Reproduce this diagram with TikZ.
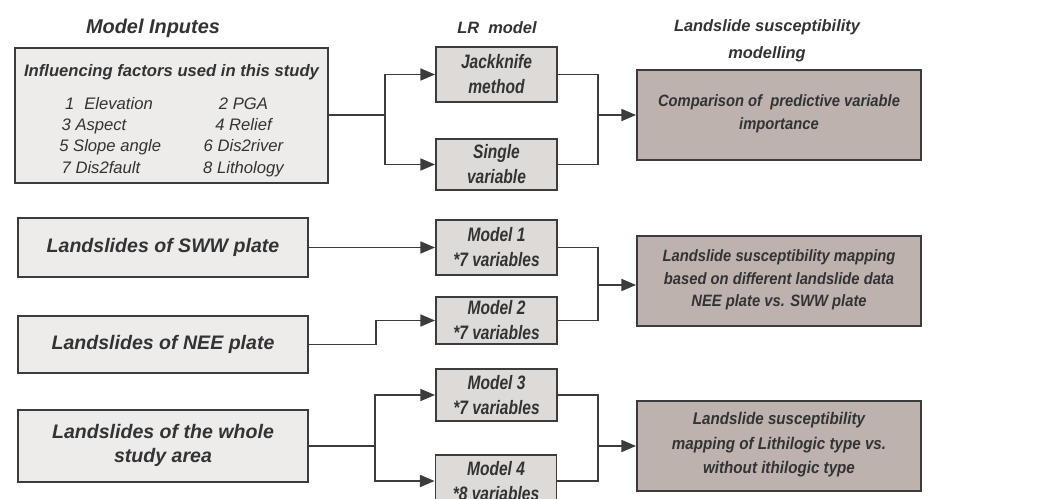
\documentclass[tikz,border=0pt]{standalone}
\usepackage{fontspec}
\setmainfont{Liberation Sans}
\newfontfamily\lrfont[FakeStretch=0.8]{Liberation Sans}
\newfontfamily\resfont[FakeStretch=0.9]{Liberation Sans}
\usepackage{tikz}
\usetikzlibrary{
    arrows.meta,
    calc,
    positioning,
}
\definecolor{boxLine}{HTML}{3C3C3C}
\definecolor{inFill}{HTML}{EEECEB}
\definecolor{lrFill}{HTML}{DEDAD8}
\definecolor{resFill}{HTML}{BDB2AE}
\definecolor{inkGrey}{HTML}{333333}
\newdimen\pxu \pxu=0.03cm

\begin{document}
\begin{tikzpicture}[x=0.03cm,y=-0.03cm,>={Triangle[length=0.44cm,width=0.36cm]}]

    \tikzstyle{commonBox}=[draw=boxLine, line width=1.6pt, text=inkGrey, align=center, inner sep=0pt]
    \tikzstyle{inputBox}=[commonBox, fill=inFill, minimum width=290\pxu, font=\fontsize{16.7pt}{20.7pt}\selectfont\bfseries\itshape]
    \tikzstyle{modelBox}=[commonBox, fill=lrFill, minimum width=121\pxu, font=\lrfont\fontsize{16.6pt}{21.3pt}\selectfont\bfseries\itshape]
    \tikzstyle{resultBox}=[commonBox, fill=resFill, minimum width=284\pxu, minimum height=90\pxu, font=\resfont\fontsize{14pt}{19.5pt}\selectfont\bfseries\itshape]
    \tikzstyle{heading}=[text=inkGrey, align=center, inner sep=0pt, font=\fontsize{14pt}{23pt}\selectfont\bfseries\itshape]
    \tikzstyle{link}=[draw=boxLine, line width=1.4pt]

    \clip (0,0) rectangle (1052,499);

    % Column headings
    \node at (153,28) [heading, font=\fontsize{17pt}{20pt}\selectfont\bfseries\itshape] (hInput) {Model Inputes};
    \node at (497,28) [heading] (hLR) {LR\ \ model};
    \node at (767,41) [heading] (hResult) {Landslide susceptibility\\modelling};

    % Model inputs
    \node at (171.5,115.5) [inputBox, minimum width=313\pxu, minimum height=135\pxu, font=\fontsize{14.2pt}{18.2pt}\selectfont\itshape] (factors)
        {\rule{0pt}{21pt}{\bfseries Influencing factors used in this study}\\[10pt]
         \begin{tabular}[t]{@{}l@{\hspace{36pt}}c@{}}
             \hspace{5pt}1\hspace{0.6em}Elevation & 2 PGA\\
             \hspace{2pt}3 Aspect & 4 Relief\\
             5 Slope angle & 6 Dis2river\\
             \hspace{2pt}7 Dis2fault & 8 Lithology
         \end{tabular}};
    \node at (163,247.5) [inputBox, minimum height=59\pxu] (sww)   {Landslides of SWW plate\rule[-4pt]{0pt}{4pt}};
    \node at (163,344.5) [inputBox, minimum height=57\pxu] (nee)   {Landslides of NEE plate\rule[-4pt]{0pt}{4pt}};
    \node at (163,446)   [inputBox, minimum height=72\pxu] (whole) {Landslides of the whole\\study area\rule[-4pt]{0pt}{4pt}};

    % LR model
    \node at (496.5,74.5)  [modelBox, minimum height=55\pxu] (jack)   {Jackknife\\method};
    \node at (496.5,164.5) [modelBox, minimum height=51\pxu] (single) {Single\\variable};
    \node at (496.5,247.5) [modelBox, minimum height=55\pxu] (mOne)   {Model 1\\*7 variables};
    \node at (496.5,320.5) [modelBox, minimum height=47\pxu] (mTwo)   {Model 2\\*7 variables};
    \node at (496.5,395)   [modelBox, minimum height=52\pxu] (mThree) {Model 3\\*7 variables};
    \node at (496,481)     [modelBox, minimum height=52\pxu] (mFour)  {Model 4\\*8 variables};

    % Susceptibility modelling
    \node at (779,115) [resultBox] (compare)  {Comparison of\ \ predictive variable\\importance\rule[-5pt]{0pt}{5pt}};
    \node at (779,281) [resultBox] (mapPlate) {Landslide susceptibility mapping\\based on different landslide data\\NEE plate vs. SWW plate\rule[-5pt]{0pt}{5pt}};
    \node at (779,446) [resultBox, font=\resfont\fontsize{14.4pt}{21pt}\selectfont\bfseries\itshape] (mapLith)
        {Landslide susceptibility\\mapping of Lithilogic type vs.\\without ithilogic type\rule[-5pt]{0pt}{5pt}};

    % Junctions
    \coordinate (jInput) at (385,115);
    \coordinate (jLR)    at (598,115);
    \coordinate (jNee)   at (376,344.5);
    \coordinate (jWhole) at (375,446);
    \coordinate (jPlate) at (598,285);
    \coordinate (jLith)  at (598,446);

    % Connectors
    \draw [link] (factors.east |- jInput) -- (jInput);
    \draw [link,->] (jInput) |- (jack.west);
    \draw [link,->] (jInput) |- (single.west);
    \draw [link] (jack.east) -| (jLR) |- (single.east);
    \draw [link,->] (jLR) -- (compare.west);

    \draw [link,->] (sww.east) -- (mOne.west);
    \draw [link,->] (nee.east |- jNee) -- (jNee) |- (mTwo.west);
    \draw [link] (whole.east |- jWhole) -- (jWhole);
    \draw [link,->] (jWhole) |- (mThree.west);
    \draw [link,->] (jWhole) |- (mFour.west);

    \draw [link] (mOne.east) -| (jPlate) |- (mTwo.east);
    \draw [link,->] (jPlate) -- (jPlate -| mapPlate.west);
    \draw [link] (mThree.east) -| (jLith) |- (mFour.east);
    \draw [link,->] (jLith) -- (mapLith.west);
\end{tikzpicture}
\end{document}
